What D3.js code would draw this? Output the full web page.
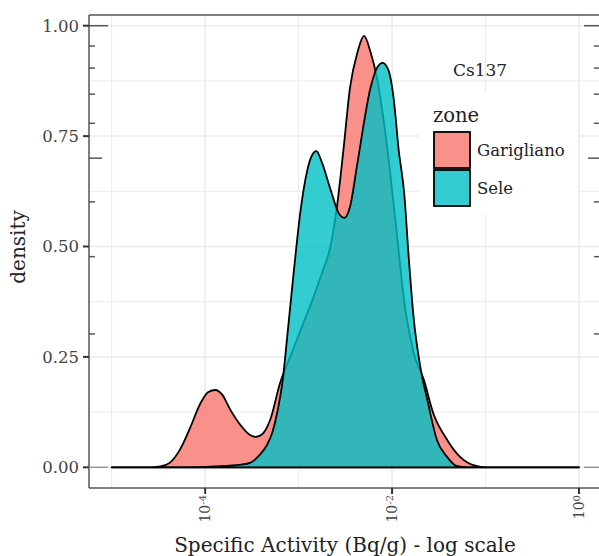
<!DOCTYPE html>
<html>
<head>
<meta charset="utf-8">
<script src="https://cdn.jsdelivr.net/npm/d3@7"></script>
<style>
  body { margin: 0; background: #fff; }
  svg text { font-family: "DejaVu Serif", serif; fill: #222; }
</style>
</head>
<body>
<div id="chart"></div>
<script>
// log10 of specific activity (Bq/g) and estimated density, per zone
var zones = ["Garigliano", "Sele"];
var zoneColors = ["#F8766D", "#00BFC4"];

var gariglianoLog = [-5.0, -4.6, -4.48, -4.38, -4.27, -4.16, -4.05, -3.97, -3.89, -3.82, -3.73, -3.62, -3.52, -3.46,
    -3.39, -3.30, -3.20, -3.09, -2.98, -2.84, -2.75, -2.66, -2.59, -2.52, -2.45, -2.37, -2.30, -2.23, -2.16, -2.05,
    -1.96, -1.86, -1.77, -1.66, -1.56, -1.41, -1.27, -1.13, -0.98, 0];
var gariglianoDensity = [0, 0, 0.002, 0.01, 0.04, 0.09, 0.145, 0.17, 0.175, 0.165, 0.13, 0.095, 0.073, 0.069,
    0.075, 0.11, 0.19, 0.25, 0.31, 0.386, 0.44, 0.50, 0.59, 0.72, 0.86, 0.94, 0.977, 0.94, 0.88, 0.72,
    0.55, 0.36, 0.26, 0.198, 0.123, 0.062, 0.023, 0.005, 0, 0];

var seleLog = [-5.0, -4.2, -3.9, -3.62, -3.52, -3.41, -3.34, -3.28, -3.23, -3.17, -3.12, -3.05, -2.98, -2.91,
    -2.86, -2.81, -2.75, -2.66, -2.57, -2.51, -2.45, -2.37, -2.23, -2.16, -2.10, -2.04, -1.98, -1.93, -1.87,
    -1.82, -1.77, -1.70, -1.62, -1.52, -1.41, -1.31, -1.2, 0];
var seleDensity = [0, 0, 0.002, 0.006, 0.01, 0.03, 0.05, 0.08, 0.123, 0.198, 0.30, 0.447, 0.58, 0.67,
    0.705, 0.716, 0.69, 0.63, 0.575, 0.565, 0.59, 0.69, 0.86, 0.905, 0.916, 0.9, 0.83, 0.72, 0.62,
    0.47, 0.34, 0.23, 0.15, 0.062, 0.023, 0.003, 0, 0];

var xTickExp = [-4, -2, 0];
var xGridExp = [-5, -4, -3, -2, -1, 0];
var yTicks = [0, 0.25, 0.5, 0.75, 1];
var yGrid = [0, 0.125, 0.25, 0.375, 0.5, 0.625, 0.75, 0.875, 1];
var rugDensity = [0.302, 0.477, 0.601, 0.779, 0.845, 0.904, 0.954];
var rugLongDensity = [0, 0.70, 1];

var width = 599, height = 556;
var panel = { left: 89, top: 15, right: 600, bottom: 488 };

var svg = d3.select("#chart").append("svg")
    .attr("width", width)
    .attr("height", height);

var x = d3.scaleLog().domain([1e-5, 1]).range([111.7, 579]);
var y = d3.scaleLinear().domain([0, 1]).range([467.3, 25.7]);

// grid
svg.append("g").selectAll("line")
    .data(yGrid)
    .enter().append("line")
    .attr("x1", panel.left).attr("x2", panel.right)
    .attr("y1", function (d) { return y(d); }).attr("y2", function (d) { return y(d); })
    .style("stroke", "#ebebeb")
    .style("stroke-width", function (d, i) { return i % 2 ? 1 : 1.5; });

svg.append("g").selectAll("line")
    .data(xGridExp)
    .enter().append("line")
    .attr("x1", function (d) { return x(Math.pow(10, d)); })
    .attr("x2", function (d) { return x(Math.pow(10, d)); })
    .attr("y1", panel.top).attr("y2", panel.bottom)
    .style("stroke", "#ebebeb")
    .style("stroke-width", function (d) { return d % 2 ? 1 : 1.5; });

// densities
var area = d3.area()
    .curve(d3.curveMonotoneX)
    .x(function (d) { return x(Math.pow(10, d[0])); })
    .y0(y(0))
    .y1(function (d) { return y(d[1]); });

var series = [d3.zip(gariglianoLog, gariglianoDensity), d3.zip(seleLog, seleDensity)];

svg.append("g").selectAll("path")
    .data(series)
    .enter().append("path")
    .attr("d", function (d) { return area(d) + "Z"; })
    .style("fill", function (d, i) { return zoneColors[i]; })
    .style("fill-opacity", 0.8)
    .style("stroke", "#000")
    .style("stroke-width", 1.8)
    .style("stroke-linejoin", "round");

// frame
var frame = svg.append("g").style("stroke", "#555").style("stroke-width", 1.5);
frame.append("line").attr("x1", panel.left).attr("x2", panel.right).attr("y1", panel.top).attr("y2", panel.top);
frame.append("line").attr("x1", panel.left).attr("x2", panel.left).attr("y1", panel.top).attr("y2", panel.bottom);
frame.append("line").attr("x1", panel.left).attr("x2", panel.right).attr("y1", panel.bottom).attr("y2", panel.bottom);

// rugs on both sides
var rug = svg.append("g").style("stroke", "#555").style("stroke-width", 1.5);
rug.selectAll(".rl").data(rugDensity).enter().append("line")
    .attr("x1", panel.left).attr("x2", panel.left + 6)
    .attr("y1", function (d) { return y(d); }).attr("y2", function (d) { return y(d); });
rug.selectAll(".rr").data(rugDensity).enter().append("line")
    .attr("x1", panel.right - 6).attr("x2", panel.right)
    .attr("y1", function (d) { return y(d); }).attr("y2", function (d) { return y(d); });
rug.selectAll(".ll").data(rugLongDensity).enter().append("line")
    .attr("x1", panel.left)
    .attr("x2", function (d) { return panel.left + (d === 0.70 ? 13 : 19); })
    .attr("y1", function (d) { return y(d); }).attr("y2", function (d) { return y(d); })
    .style("stroke", function (d) { return d === 0 ? "#999" : "#555"; });
rug.selectAll(".lr").data(rugLongDensity).enter().append("line")
    .attr("x1", function (d) { return panel.right - (d === 0.70 ? 12 : 16); })
    .attr("x2", panel.right)
    .attr("y1", function (d) { return y(d); }).attr("y2", function (d) { return y(d); })
    .style("stroke", function (d) { return d === 0 ? "#999" : "#555"; });

// y axis ticks + labels
var yAxis = svg.append("g");
yAxis.selectAll("line").data(yTicks).enter().append("line")
    .attr("x1", panel.left - 6).attr("x2", panel.left)
    .attr("y1", function (d) { return y(d); }).attr("y2", function (d) { return y(d); })
    .style("stroke", "#333").style("stroke-width", 2);
yAxis.selectAll("text").data(yTicks).enter().append("text")
    .attr("x", panel.left - 10)
    .attr("y", function (d) { return y(d); })
    .attr("dy", "0.36em")
    .attr("text-anchor", "end")
    .style("font-size", "16.5px")
    .style("fill", "#444")
    .text(function (d) { return d3.format(".2f")(d); });

// x axis ticks + labels
var xAxis = svg.append("g");
xAxis.selectAll("line").data(xTickExp).enter().append("line")
    .attr("x1", function (d) { return x(Math.pow(10, d)); })
    .attr("x2", function (d) { return x(Math.pow(10, d)); })
    .attr("y1", panel.bottom).attr("y2", panel.bottom + 6)
    .style("stroke", "#333").style("stroke-width", 2);
var xl = xAxis.selectAll("text").data(xTickExp).enter().append("text")
    .attr("transform", function (d) { return "translate(" + x(Math.pow(10, d)) + "," + (panel.bottom + 7) + ") rotate(-90)"; })
    .attr("dy", "0.36em")
    .attr("text-anchor", "end")
    .style("font-size", "14px")
    .style("fill", "#444");
xl.append("tspan").text("10");
xl.append("tspan").attr("dy", "-0.45em").style("font-size", "10px").text(function (d) { return d; });

// titles
svg.append("text")
    .attr("x", 345).attr("y", 552)
    .attr("text-anchor", "middle")
    .style("font-size", "20px")
    .text("Specific Activity (Bq/g) - log scale");

svg.append("text")
    .attr("transform", "translate(25,247) rotate(-90)")
    .attr("text-anchor", "middle")
    .style("font-size", "20px")
    .text("density");

// legend
var legend = svg.append("g");
legend.append("rect")
    .attr("x", 420).attr("y", 92).attr("width", 158).attr("height", 122)
    .style("fill", "#fff");
legend.append("text")
    .attr("x", 480).attr("y", 76)
    .attr("text-anchor", "middle")
    .style("font-size", "17px")
    .text("Cs137");
legend.append("text")
    .attr("x", 433).attr("y", 122)
    .style("font-size", "19.5px")
    .text("zone");
var keys = legend.selectAll(".key").data(zones).enter().append("g")
    .attr("transform", function (d, i) { return "translate(434," + (132 + i * 38) + ")"; });
keys.append("rect")
    .attr("width", 36).attr("height", 36)
    .style("fill", function (d, i) { return zoneColors[i]; })
    .style("fill-opacity", 0.8)
    .style("stroke", "#000")
    .style("stroke-width", 1.8);
keys.append("text")
    .attr("x", 43).attr("y", 18).attr("dy", "0.36em")
    .style("font-size", "16.5px")
    .text(function (d) { return d; });
</script>
</body>
</html>
